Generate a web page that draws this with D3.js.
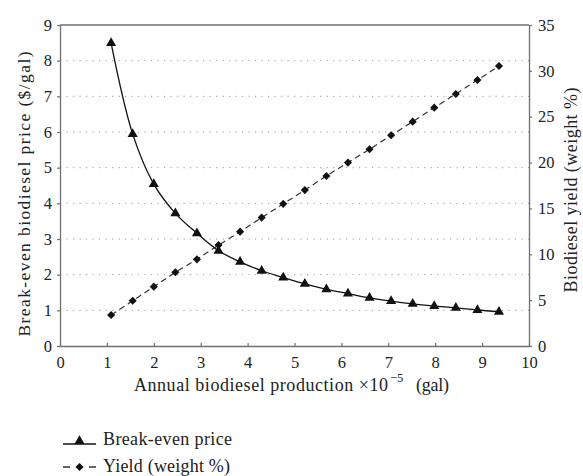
<!DOCTYPE html>
<html>
<head>
<meta charset="utf-8">
<script src="https://cdn.jsdelivr.net/npm/d3@7"></script>
<style>
  html, body { margin: 0; padding: 0; background: #fff; }
  svg text { font-family: "Liberation Serif", "DejaVu Serif", serif; fill: #222; }
</style>
</head>
<body>
<svg id="chart" width="583" height="476"></svg>
<script>
// Annual production (x 10^5 gal)
const production = [1.09, 1.55, 2.00, 2.46, 2.92, 3.38, 3.84, 4.30, 4.76, 5.22,
                    5.68, 6.14, 6.60, 7.06, 7.52, 7.98, 8.44, 8.90, 9.36];
// Break-even price ($/gal)
const breakEvenPrice = [8.49, 5.94, 4.54, 3.72, 3.16, 2.67, 2.36, 2.11, 1.92, 1.74,
                        1.59, 1.47, 1.35, 1.26, 1.18, 1.12, 1.07, 1.01, 0.96];
// Biodiesel yield (weight %)
const yieldPct = [3.38, 4.94, 6.47, 8.04, 9.45, 11.0, 12.47, 14.0, 15.5, 17.0,
                  18.54, 20.0, 21.45, 22.98, 24.46, 25.99, 27.48, 29.0, 30.53];

const xTicks = [0, 1, 2, 3, 4, 5, 6, 7, 8, 9, 10];
const leftTicks = [0, 1, 2, 3, 4, 5, 6, 7, 8, 9];
const rightTicks = [0, 5, 10, 15, 20, 25, 30, 35];

const svg = d3.select("#chart");
const m = { left: 60, right: 54, top: 25, bottom: 130 };
const W = 583, H = 476;
const x0 = m.left, x1 = W - m.right, y0 = H - m.bottom, y1 = m.top;

const x = d3.scaleLinear().domain([0, 10]).range([x0, x1]);
const yL = d3.scaleLinear().domain([0, 9]).range([y0, y1]);
const yR = d3.scaleLinear().domain([0, 35]).range([y0, y1]);

const axisColor = "#6f6f6f";
const tickFont = 16.5;

// dotted horizontal gridlines at the price ticks
svg.append("g").selectAll("line")
  .data(leftTicks.filter(d => d > 0 && d < 9))
  .join("line")
  .attr("x1", x0).attr("x2", x1)
  .attr("y1", d => yL(d)).attr("y2", d => yL(d))
  .attr("stroke", "#999").attr("stroke-width", 1)
  .attr("stroke-dasharray", "1.2,5.3");

// frame: top edge
svg.append("line").attr("x1", x0).attr("x2", x1).attr("y1", y1).attr("y2", y1)
  .attr("stroke", axisColor).attr("stroke-width", 1.3);

function styleAxis(g) {
  g.select(".domain").attr("stroke", axisColor).attr("stroke-width", 1.3);
  g.selectAll(".tick line").attr("stroke", axisColor).attr("stroke-width", 1.2);
  g.selectAll(".tick text").attr("font-size", tickFont)
    .style("font-family", "'Liberation Serif', 'DejaVu Serif', serif").attr("fill", "#222");
}

// bottom axis
svg.append("g").attr("transform", `translate(0,${y0})`)
  .call(d3.axisBottom(x).tickValues(xTicks).tickFormat(d3.format("d"))
        .tickSizeInner(-3).tickSizeOuter(0).tickPadding(10))
  .call(styleAxis);

// left axis (price)
svg.append("g").attr("transform", `translate(${x0},0)`)
  .call(d3.axisLeft(yL).tickValues(leftTicks).tickFormat(d3.format("d"))
        .tickSizeInner(3).tickSizeOuter(0).tickPadding(5))
  .call(styleAxis);

// right axis (yield)
svg.append("g").attr("transform", `translate(${x1},0)`)
  .call(d3.axisRight(yR).tickValues(rightTicks).tickFormat(d3.format("d"))
        .tickSizeInner(3).tickSizeOuter(0).tickPadding(6))
  .call(styleAxis);

// yield series: dashed line with diamonds
const lineY = d3.line().x((d, i) => x(production[i])).y(d => yR(d));
svg.append("path").datum(yieldPct).attr("d", lineY)
  .attr("fill", "none").attr("stroke", "#333").attr("stroke-width", 1.2)
  .attr("stroke-dasharray", "6,4");
const diamond = d3.symbol().type(d3.symbolDiamond2 || d3.symbolDiamond).size(42);
svg.append("g").selectAll("path").data(yieldPct).join("path")
  .attr("d", diamond)
  .attr("transform", (d, i) => `translate(${x(production[i])},${yR(d)})`)
  .attr("fill", "#111");

// price series: solid smooth curve with triangles
const lineP = d3.line().curve(d3.curveCatmullRom)
  .x((d, i) => x(production[i])).y(d => yL(d));
svg.append("path").datum(breakEvenPrice).attr("d", lineP)
  .attr("fill", "none").attr("stroke", "#111").attr("stroke-width", 1.3);
const tri = d3.symbol().type(d3.symbolTriangle).size(44);
svg.append("g").selectAll("path").data(breakEvenPrice).join("path")
  .attr("d", tri)
  .attr("transform", (d, i) => `translate(${x(production[i])},${yL(d)})`)
  .attr("fill", "#111");

// axis titles
svg.append("text")
  .attr("transform", `translate(26,194) rotate(-90)`)
  .attr("text-anchor", "middle").attr("dominant-baseline", "middle").attr("font-size", 17.5)
  .attr("textLength", 285).attr("lengthAdjust", "spacing")
  .text("Break-even biodiesel price ($/gal)");
svg.append("text")
  .attr("transform", `translate(573,190) rotate(-90)`)
  .attr("text-anchor", "middle").attr("dominant-baseline", "middle").attr("font-size", 18)
  .attr("textLength", 205).attr("lengthAdjust", "spacing")
  .text("Biodiesel yield (weight %)");

const xt = svg.append("g");
xt.append("text").attr("x", 134).attr("y", 391).attr("font-size", 18)
  .attr("textLength", 254).attr("lengthAdjust", "spacing")
  .text("Annual biodiesel production \u00d710");
xt.append("text").attr("x", 390).attr("y", 382).attr("font-size", 12.5)
  .text("\u22125");
xt.append("text").attr("x", 416).attr("y", 391).attr("font-size", 18)
  .attr("textLength", 33).attr("lengthAdjust", "spacing")
  .text("(gal)");

// legend
const lg = svg.append("g");
lg.append("line").attr("x1", 63).attr("x2", 96).attr("y1", 444).attr("y2", 444)
  .attr("stroke", "#111").attr("stroke-width", 1.3);
lg.append("path").attr("d", tri).attr("transform", "translate(79.5,441)").attr("fill", "#111");
lg.append("text").attr("x", 103).attr("y", 445).attr("font-size", 18)
  .attr("textLength", 129).attr("lengthAdjust", "spacing").text("Break-even price");
lg.append("line").attr("x1", 63).attr("x2", 96).attr("y1", 467).attr("y2", 467)
  .attr("stroke", "#333").attr("stroke-width", 1.3).attr("stroke-dasharray", "7,19,7");
lg.append("path").attr("d", diamond).attr("transform", "translate(79.5,467)").attr("fill", "#111");
lg.append("text").attr("x", 103).attr("y", 472).attr("font-size", 18)
  .attr("textLength", 127).attr("lengthAdjust", "spacing").text("Yield (weight %)");
</script>
</body>
</html>
